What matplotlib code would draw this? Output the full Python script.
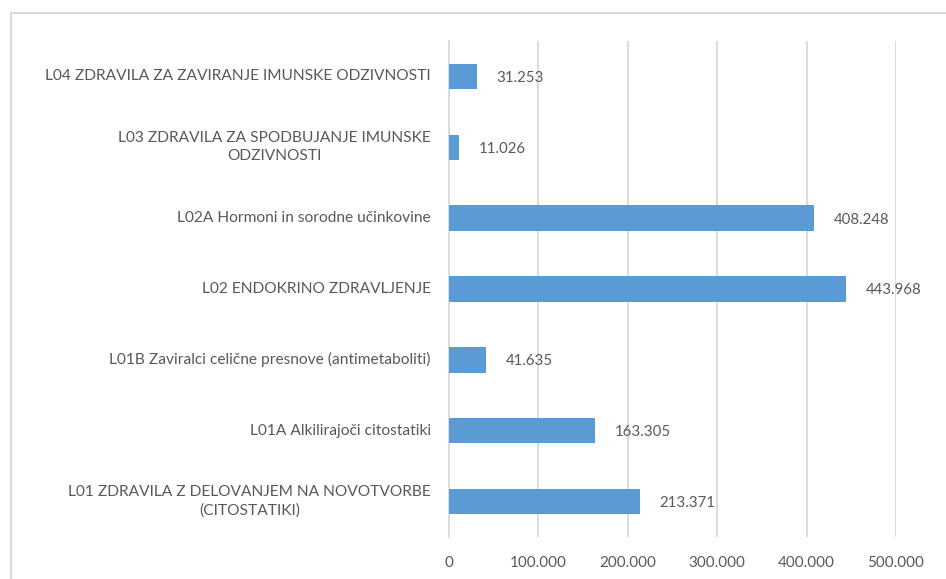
import matplotlib
matplotlib.use("Agg")
import matplotlib.pyplot as plt
from matplotlib.patches import Rectangle
from matplotlib.ticker import FuncFormatter
from matplotlib.transforms import blended_transform_factory, ScaledTranslation

plt.rcParams['font.family'] = ['Lato', 'DejaVu Sans']

categories = [
    "L01 ZDRAVILA Z DELOVANJEM NA NOVOTVORBE\n(CITOSTATIKI)",
    "L01A Alkilirajoči citostatiki",
    "L01B Zaviralci celične presnove (antimetaboliti)",
    "L02 ENDOKRINO ZDRAVLJENJE",
    "L02A Hormoni in sorodne učinkovine",
    "L03 ZDRAVILA ZA SPODBUJANJE IMUNSKE\nODZIVNOSTI",
    "L04 ZDRAVILA ZA ZAVIRANJE IMUNSKE ODZIVNOSTI",
]
values = [213371, 163305, 41635, 443968, 408248, 11026, 31253]
xticks = [0, 100000, 200000, 300000, 400000, 500000]

TEXT = "#595959"
GRID = "#d9d9d9"
BAR = "#5B9BD5"

def eu(v):
    return f"{int(v):,}".replace(",", ".")

W, H = 946, 579
fig = plt.figure(figsize=(W / 100, H / 100), dpi=100)
fig.patch.set_facecolor("white")

# chart border (cropped at right and bottom)
fig.patches.append(Rectangle((10.5 / W, -0.05), 1.2, 1.05 - 12.5 / H,
                             transform=fig.transFigure, fill=False,
                             edgecolor=GRID, linewidth=1.5))

ax = fig.add_axes([449 / W, 1 - 537 / H, (896 - 449) / W, (537 - 41) / H])
y = list(range(len(categories)))
ax.barh(y, values, height=0.36, color=BAR, zorder=3)
ax.set_ylim(-0.5, len(categories) - 0.5)
ax.set_xlim(0, 500000)
ax.set_xticks(xticks)
ax.xaxis.set_major_formatter(FuncFormatter(lambda v, p: eu(v)))
ax.set_yticks(y)
ax.set_yticklabels([])
ax.tick_params(axis="both", length=0, colors=TEXT)
ax.tick_params(axis="x", pad=14, labelsize=11)
ax.grid(axis="x", color=GRID, linewidth=1.3, zorder=0)
for s in ["top", "right", "bottom"]:
    ax.spines[s].set_visible(False)
ax.spines["left"].set_color(GRID)
ax.spines["left"].set_linewidth(1.3)
ax.spines["left"].set_zorder(1)

# category labels (centred multi-line, right-aligned block)
trans = blended_transform_factory(ax.transAxes, ax.transData) + \
    ScaledTranslation(-13 / 72, 0, fig.dpi_scale_trans)
for yi, cat in zip(y, categories):
    ax.text(0, yi, cat, transform=trans, ha="right", va="center",
            multialignment="center", color=TEXT, fontsize=11.2,
            linespacing=1.4)

for yi, v in zip(y, values):
    ax.annotate(eu(v), (v, yi), xytext=(14, -1), textcoords="offset points",
                ha="left", va="center", color=TEXT, fontsize=10.8)

fig.savefig("out.png", dpi=100, facecolor="white")
